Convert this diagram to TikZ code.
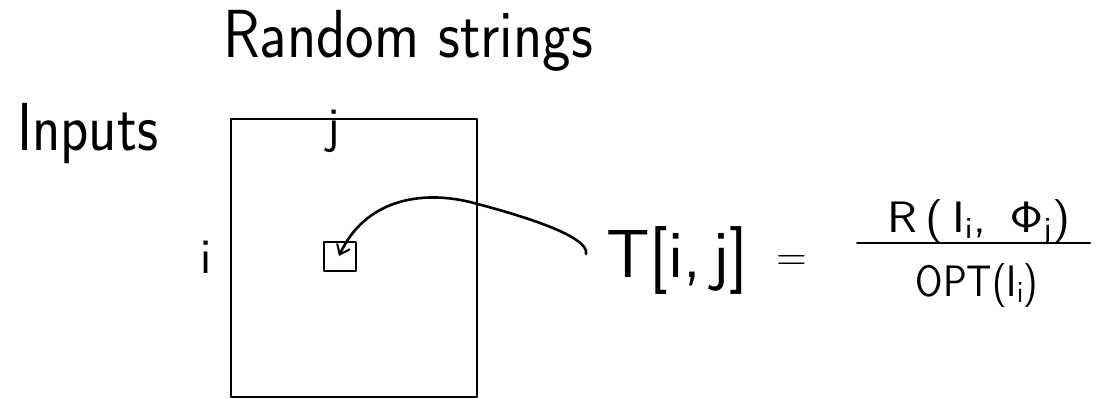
\RequirePackage{fix-cm}
\documentclass[tikz,border=0pt]{standalone}
\usetikzlibrary{arrows.meta}
\begin{document}
\begin{tikzpicture}[x=1pt,y=-1pt,
  hand/.style={font=\sffamily\fontsize{68}{80}\selectfont, inner sep=0pt, anchor=base west},
  small/.style={font=\sffamily\fontsize{50}{60}\selectfont, inner sep=0pt, anchor=base},
  fracfont/.style={font=\sffamily\fontsize{44}{54}\selectfont, inner sep=0pt, anchor=base},
  stroke/.style={line width=2pt, line cap=round, line join=round}]
\useasboundingbox (0,0) rectangle (1104,399);
% labels
\node[hand] (rs) at (223,57) {\scalebox{0.89}[1]{Random strings}};
\node[hand] (inp) at (17,150) {\scalebox{0.86}[1]{Inputs}};
\node[small] (jl) at (334,142) {j};
\node[small] (il) at (206,273) {i};
% table
\node[stroke, draw, minimum width=246pt, minimum height=278pt, inner sep=0pt] (tab) at (354,258) {};
\node[stroke, draw, minimum width=32pt, minimum height=29pt, inner sep=0pt] (sq) at (340,256.5) {};
% formula
\node[hand] (T) at (606,277) {T[i,\,j]};
\node[hand, anchor=center] (eq) at (792,263) {\scalebox{0.62}{=}};
\node[fracfont] (num) at (979,232) {\scalebox{1.12}[1]{R\,(\,I\textsubscript{i}, \,$\mathsf{\Phi}$\textsubscript{j})}};
\node[fracfont] (den) at (977,296) {\scalebox{0.9}[1]{OPT(I\textsubscript{i})}};
\coordinate (bl) at (857,243);
\coordinate (br) at (1090,243);
\draw[stroke] (bl) -- (br);
% connector
\coordinate (hook) at (586,254);
\coordinate (tip) at (339,256);
\draw[line width=2.6pt, line cap=round, -{Straight Barb[length=9pt,width=14pt,line width=2pt]}]
  (hook) .. controls (590,236) and (520,215) .. (470,202)
         .. controls (420,190) and (365,200) .. (tip);
\end{tikzpicture}
\end{document}
